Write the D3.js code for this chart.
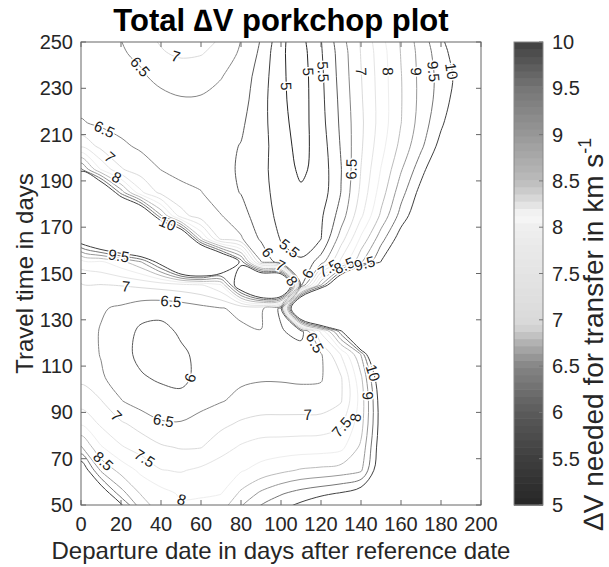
<!DOCTYPE html>
<html>
<head>
<meta charset="utf-8">
<script src="https://cdnjs.cloudflare.com/ajax/libs/d3/7.8.5/d3.min.js"></script>
<style>
  html, body { margin: 0; padding: 0; background: #fff; }
  svg { display: block; font-family: "Liberation Sans", Arial, Helvetica, sans-serif; }
</style>
</head>
<body>
<svg id="chart" width="609" height="567"></svg>
<script>
// grid columns: departure date (days after reference date)
const departureDays = d3.range(0, 201, 10);
// grid rows: travel time (days), top row first (first and last row sit just outside the axes)
const travelDays = d3.range(255, 44, -10);

// total delta-V (km/s), one row per travel time,
// one value per departure day
const dv255 = [6.27, 6.4, 6.52, 6.85, 7.12, 7.25, 7.2, 7.05, 6.55, 6.02, 5.06, 4.8, 5.51, 6.28, 7.06, 7.82, 8.56, 9.24, 9.92, 10.6, 11.3];
const dv245 = [6.23, 6.35, 6.47, 6.56, 6.95, 7.08, 7.03, 6.8, 6.42, 5.9, 5.06, 4.79, 5.45, 6.22, 7.02, 7.77, 8.52, 9.18, 9.78, 10.38, 11.05];
const dv235 = [6.28, 6.33, 6.39, 6.46, 6.58, 6.67, 6.65, 6.52, 6.28, 5.77, 5.08, 4.76, 5.4, 6.18, 6.98, 7.73, 8.48, 9.15, 9.68, 10.22, 10.9];
const dv225 = [6.35, 6.36, 6.36, 6.38, 6.42, 6.47, 6.46, 6.35, 6.2, 5.7, 5.1, 4.76, 5.37, 6.13, 6.94, 7.71, 8.47, 9.15, 9.73, 10.35, 11.05];
const dv215 = [6.54, 6.42, 6.36, 6.33, 6.31, 6.3, 6.27, 6.2, 6.08, 5.68, 5.15, 4.78, 5.33, 6.09, 6.9, 7.71, 8.49, 9.22, 9.9, 10.6, 11.3];
const dv205 = [7.42, 6.85, 6.58, 6.43, 6.33, 6.26, 6.21, 6.13, 5.98, 5.68, 5.22, 4.82, 5.25, 6.04, 6.93, 7.82, 8.65, 9.4, 10.2, 10.95, 11.7];
const dv195 = [9.6, 7.95, 7.05, 6.72, 6.49, 6.38, 6.28, 6.12, 5.95, 5.63, 5.27, 4.9, 5.2, 5.98, 7.01, 8.02, 8.95, 9.8, 10.65, 11.45, 12.25];
const dv185 = [14.0, 11.8, 9.3, 7.6, 6.85, 6.62, 6.52, 6.2, 5.98, 5.65, 5.32, 5.08, 5.22, 6.01, 7.12, 8.25, 9.3, 10.2, 11.0, 11.8, 12.6];
const dv175 = [13.2, 13.5, 13.2, 11.8, 9.05, 7.2, 6.72, 6.52, 6.2, 5.72, 5.37, 5.22, 5.42, 6.22, 7.4, 8.6, 9.7, 10.5, 11.3, 12.1, 12.85];
const dv165 = [10.6, 11.8, 12.8, 13.5, 13.5, 12.0, 8.6, 6.88, 6.56, 5.92, 5.47, 5.3, 5.49, 6.75, 8.1, 9.3, 10.3, 11.1, 11.8, 12.5, 13.2];
const dv155 = [7.75, 7.92, 8.35, 8.98, 10.4, 13.0, 14.0, 12.0, 9.8, 6.52, 5.72, 5.55, 6.25, 7.62, 8.95, 10.02, 11.0, 11.8, 12.5, 13.1, 13.7];
const dv145 = [6.95, 6.98, 7.02, 7.1, 7.2, 7.3, 7.45, 7.95, 11.0, 14.0, 14.0, 5.9, 9.0, 12.0, 15.0, 16.0, 17.0, 17.5, 17.5, 17.5, 17.5];
const dv135 = [6.8, 6.55, 6.42, 6.22, 6.14, 6.22, 6.36, 6.48, 6.58, 6.6, 5.9, 14.0, 17.0, 18.0, 18.0, 18.0, 18.0, 18.0, 18.0, 18.0, 18.0];
const dv125 = [6.72, 6.47, 6.25, 5.9, 5.88, 6.06, 6.2, 6.35, 6.44, 6.49, 6.05, 5.8, 7.6, 9.8, 14.0, 17.0, 18.0, 18.0, 18.0, 18.0, 18.0];
const dv115 = [6.72, 6.48, 6.17, 5.88, 5.82, 5.93, 6.1, 6.25, 6.34, 6.38, 6.37, 6.3, 6.45, 7.52, 9.02, 12.5, 16.5, 18.0, 18.0, 18.0, 18.0];
const dv105 = [6.9, 6.56, 6.28, 6.05, 5.93, 5.9, 6.12, 6.3, 6.42, 6.46, 6.46, 6.44, 6.46, 6.95, 8.4, 10.7, 15.0, 18.0, 18.0, 18.0, 18.0];
const dv95  = [7.25, 7.02, 6.52, 6.28, 6.2, 6.12, 6.33, 6.47, 6.62, 6.68, 6.67, 6.65, 6.66, 6.96, 8.2, 10.35, 14.5, 18.0, 18.0, 18.0, 18.0];
const dv85  = [7.95, 7.42, 7.08, 6.82, 6.56, 6.55, 6.7, 6.88, 7.08, 7.2, 7.22, 7.24, 7.26, 7.42, 8.3, 10.3, 14.5, 18.0, 18.0, 18.0, 18.0];
const dv75  = [9.05, 8.05, 7.55, 7.28, 7.06, 6.96, 6.98, 7.3, 7.56, 7.7, 7.72, 7.74, 7.76, 7.86, 8.6, 10.4, 14.5, 18.0, 18.0, 18.0, 18.0];
const dv65  = [10.6, 8.92, 8.32, 7.88, 7.52, 7.46, 7.6, 7.78, 7.95, 8.18, 8.38, 8.55, 8.62, 8.72, 8.92, 10.6, 14.5, 18.0, 18.0, 18.0, 18.0];
const dv55  = [13.5, 10.6, 9.2, 8.45, 8.18, 7.93, 7.94, 7.98, 8.6, 9.1, 9.45, 9.7, 9.88, 10.05, 10.4, 11.5, 15.0, 18.0, 18.0, 18.0, 18.0];
const dv45  = [18.0, 14.0, 11.0, 9.2, 8.5, 8.2, 8.25, 8.6, 9.3, 9.9, 10.2, 10.5, 10.9, 11.4, 12.5, 14.5, 17.0, 18.0, 18.0, 18.0, 18.0];

const deltaVRows = [dv255, dv245, dv235, dv225, dv215, dv205, dv195, dv185, dv175, dv165, dv155,
  dv145, dv135, dv125, dv115, dv105, dv95, dv85, dv75, dv65, dv55, dv45];

const contourLevels = [5, 5.5, 6, 6.5, 7, 7.5, 8, 8.5, 9, 9.5, 10];
const xTicks = [0, 20, 40, 60, 80, 100, 120, 140, 160, 180, 200];
const yTicks = [50, 70, 90, 110, 130, 150, 170, 190, 210, 230, 250];
const colorbarTicks = [5, 5.5, 6, 6.5, 7, 7.5, 8, 8.5, 9, 9.5, 10];

// ---------------------------------------------------------------------------

const svg = d3.select('#chart');
const plot = { x0: 81, x1: 481, y0: 42, y1: 505 };
const x = d3.scaleLinear().domain([0, 200]).range([plot.x0, plot.x1]);
const y = d3.scaleLinear().domain([50, 250]).range([plot.y1, plot.y0]);

// grey colormap: dark at both ends, white around 8
const greyStops = [[5, 38], [5.5, 62], [6, 90], [6.5, 133], [6.75, 176], [6.9, 208], [7, 218],
  [7.5, 228], [8, 238], [8.12, 248], [8.3, 218], [8.5, 188], [9, 152], [9.5, 118], [10, 64]];
const greyScale = d3.scaleLinear()
  .domain(greyStops.map(d => d[0]))
  .range(greyStops.map(d => d[1]))
  .clamp(true);
const colorOf = v => {
  const g = Math.round(greyScale(v));
  return `rgb(${g},${g},${g})`;
};

svg.append('rect').attr('width', 609).attr('height', 567).attr('fill', '#fff');

svg.append('defs').append('clipPath').attr('id', 'plot-clip')
  .append('rect')
  .attr('x', plot.x0).attr('y', plot.y0)
  .attr('width', plot.x1 - plot.x0).attr('height', plot.y1 - plot.y0);

// contours --------------------------------------------------------------------
const nx = departureDays.length, ny = travelDays.length;
const contours = d3.contours()
  .size([nx, ny])
  .thresholds(contourLevels)(deltaVRows.flat());

const dStep = departureDays[1] - departureDays[0];
const tStep = travelDays[0] - travelDays[1];
const toPx = p => [
  x(departureDays[0] + (p[0] - 0.5) * dStep),
  y(travelDays[0] - (p[1] - 0.5) * tStep)
];
const onBorder = p => p[0] <= 0 || p[0] >= nx || p[1] <= 0 || p[1] >= ny;

// cut the grid border out of each ring, keep the real iso-lines
function splitRing(ring) {
  const pts = ring.slice();
  const f = pts[0], l = pts[pts.length - 1];
  if (f[0] === l[0] && f[1] === l[1]) pts.pop();
  const m = pts.length;
  const isBorderSeg = i => onBorder(pts[i]) && onBorder(pts[(i + 1) % m]);
  let start = -1;
  for (let i = 0; i < m; i++) if (isBorderSeg(i)) { start = i; break; }
  if (start < 0) return [{ pts, closed: true }];
  const lines = [];
  let cur = [];
  for (let k = 1; k <= m; k++) {
    const i = (start + k) % m;
    if (isBorderSeg(i)) {
      if (cur.length > 1) lines.push({ pts: cur, closed: false });
      cur = [];
    } else {
      if (!cur.length) cur.push(pts[i]);
      cur.push(pts[(i + 1) % m]);
    }
  }
  if (cur.length > 1) lines.push({ pts: cur, closed: false });
  return lines;
}

const isoLines = [];
contours.forEach(c => {
  c.coordinates.forEach(poly => poly.forEach(ring => {
    splitRing(ring).forEach(seg => {
      isoLines.push({ level: c.value, closed: seg.closed, pts: seg.pts.map(toPx) });
    });
  }));
});

const openLine = d3.line().curve(d3.curveCatmullRom.alpha(0.5));
const closedLine = d3.line().curve(d3.curveCatmullRomClosed.alpha(0.5));

const plotArea = svg.append('g').attr('clip-path', 'url(#plot-clip)');
plotArea.selectAll('path.iso')
  .data(isoLines)
  .join('path')
  .attr('class', 'iso')
  .attr('d', d => (d.closed ? closedLine : openLine)(d.pts))
  .attr('fill', 'none')
  .attr('stroke', d => colorOf(d.level))
  .attr('stroke-width', 1);

// inline labels ------------------------------------------------------------------
const labels = [];
const fmt = v => (Number.isInteger(v) ? String(v) : v.toFixed(1));
const inside = p => p[0] > plot.x0 + 4 && p[0] < plot.x1 - 4 && p[1] > plot.y0 + 4 && p[1] < plot.y1 - 4;

function measure(r) {
  const cum = [0];
  for (let i = 1; i < r.length; i++) {
    cum.push(cum[i - 1] + Math.hypot(r[i][0] - r[i - 1][0], r[i][1] - r[i - 1][1]));
  }
  return cum;
}

function pointAt(r, cum, s) {
  let i = d3.bisectLeft(cum, s);
  if (i < 1) i = 1;
  if (i >= r.length) i = r.length - 1;
  const a = r[i - 1], b = r[i];
  const t = (s - cum[i - 1]) / ((cum[i] - cum[i - 1]) || 1);
  return [a[0] + t * (b[0] - a[0]), a[1] + t * (b[1] - a[1])];
}

function pushLabel(r, cum, s, level) {
  const L = cum[cum.length - 1];
  const p = pointAt(r, cum, s);
  const pa = pointAt(r, cum, Math.max(0, s - 7));
  const pb = pointAt(r, cum, Math.min(L, s + 7));
  let ang = Math.atan2(pb[1] - pa[1], pb[0] - pa[0]) * 180 / Math.PI;
  if (ang > 90) ang -= 180;
  if (ang < -90) ang += 180;
  if (labels.some(q => Math.hypot(q.x - p[0], q.y - p[1]) < 15)) return;
  labels.push({ x: p[0], y: p[1], angle: ang, text: fmt(level) });
}

function addLabels(line) {
  if (line.closed) {
    const r = line.pts.concat([line.pts[0]]);
    const cum = measure(r);
    if (cum[cum.length - 1] < 60) return;
    const iMax = d3.maxIndex(r, p => p[0]);
    pushLabel(r, cum, cum[iMax], line.level);
    return;
  }
  const runs = [];
  let run = [];
  line.pts.forEach(p => {
    if (inside(p)) run.push(p);
    else { if (run.length > 1) runs.push(run); run = []; }
  });
  if (run.length > 1) runs.push(run);

  const score = p => Math.min(p[1] - plot.y0, p[0] - plot.x0);
  runs.forEach(r0 => {
    const r = score(r0[r0.length - 1]) < score(r0[0]) ? r0.slice().reverse() : r0;
    const cum = measure(r);
    const L = cum[cum.length - 1];
    if (L < 40) return;
    let placedAny = false;
    for (let s = 18; s < L - 16; s += 210) {
      pushLabel(r, cum, s, line.level);
      placedAny = true;
    }
    if (!placedAny) pushLabel(r, cum, L / 2, line.level);
  });
}
isoLines.forEach(addLabels);

plotArea.selectAll('text.clabel')
  .data(labels)
  .join('text')
  .attr('class', 'clabel')
  .attr('transform', d => `translate(${d.x},${d.y}) rotate(${d.angle})`)
  .attr('text-anchor', 'middle')
  .attr('dy', '0.36em')
  .attr('font-size', 15)
  .attr('fill', '#1a1a1a')
  .attr('stroke', '#fff')
  .attr('stroke-width', 3)
  .attr('paint-order', 'stroke')
  .text(d => d.text);

// axes box and ticks --------------------------------------------------------------
const axisColor = '#666';
const textColor = '#262626';
const tickLen = 5;

svg.append('rect')
  .attr('x', plot.x0).attr('y', plot.y0)
  .attr('width', plot.x1 - plot.x0).attr('height', plot.y1 - plot.y0)
  .attr('fill', 'none').attr('stroke', axisColor).attr('stroke-width', 1);

const ticks = svg.append('g').attr('stroke', axisColor).attr('stroke-width', 1);
xTicks.forEach(v => {
  ticks.append('line').attr('x1', x(v)).attr('x2', x(v)).attr('y1', plot.y1).attr('y2', plot.y1 - tickLen);
  ticks.append('line').attr('x1', x(v)).attr('x2', x(v)).attr('y1', plot.y0).attr('y2', plot.y0 + tickLen);
});
yTicks.forEach(v => {
  ticks.append('line').attr('y1', y(v)).attr('y2', y(v)).attr('x1', plot.x0).attr('x2', plot.x0 + tickLen);
  ticks.append('line').attr('y1', y(v)).attr('y2', y(v)).attr('x1', plot.x1).attr('x2', plot.x1 - tickLen);
});

svg.append('g').selectAll('text')
  .data(xTicks).join('text')
  .attr('x', d => x(d)).attr('y', plot.y1 + 26)
  .attr('text-anchor', 'middle')
  .attr('font-size', 20).attr('fill', textColor)
  .text(d => d);

svg.append('g').selectAll('text')
  .data(yTicks).join('text')
  .attr('x', plot.x0 - 8).attr('y', d => y(d) + 7)
  .attr('text-anchor', 'end')
  .attr('font-size', 20).attr('fill', textColor)
  .text(d => d);

svg.append('text')
  .attr('x', (plot.x0 + plot.x1) / 2).attr('y', 559)
  .attr('text-anchor', 'middle')
  .attr('font-size', 24).attr('fill', textColor)
  .text('Departure date in days after reference date');

svg.append('text')
  .attr('transform', `translate(33,${(plot.y0 + plot.y1) / 2}) rotate(-90)`)
  .attr('text-anchor', 'middle')
  .attr('font-size', 24).attr('fill', textColor)
  .text('Travel time in days');

svg.append('text')
  .attr('x', (plot.x0 + plot.x1) / 2).attr('y', 31)
  .attr('text-anchor', 'middle')
  .attr('font-size', 31).attr('font-weight', 'bold').attr('fill', '#000')
  .text('Total \u2206V porkchop plot');

// colorbar -----------------------------------------------------------------------
const cb = { x0: 514, x1: 543, y0: 42, y1: 505 };
const cbY = d3.scaleLinear().domain([5, 10]).range([cb.y1, cb.y0]);
const nBands = 64;
const bandH = (cb.y1 - cb.y0) / nBands;
svg.append('g').selectAll('rect')
  .data(d3.range(nBands))
  .join('rect')
  .attr('x', cb.x0).attr('width', cb.x1 - cb.x0)
  .attr('y', i => cb.y1 - (i + 1) * bandH)
  .attr('height', bandH + 0.6)
  .attr('fill', i => colorOf(5 + (i + 0.5) * 5 / nBands));

svg.append('rect')
  .attr('x', cb.x0).attr('y', cb.y0)
  .attr('width', cb.x1 - cb.x0).attr('height', cb.y1 - cb.y0)
  .attr('fill', 'none').attr('stroke', '#888').attr('stroke-width', 1);

const cbTicks = svg.append('g').attr('stroke', '#777').attr('stroke-width', 1);
colorbarTicks.forEach(v => {
  cbTicks.append('line').attr('x1', cb.x1).attr('x2', cb.x1 - 4).attr('y1', cbY(v)).attr('y2', cbY(v));
});

svg.append('g').selectAll('text')
  .data(colorbarTicks).join('text')
  .attr('x', cb.x1 + 9).attr('y', d => cbY(d) + 7)
  .attr('font-size', 20).attr('fill', textColor)
  .text(d => fmt(d));

const cbLabel = svg.append('text')
  .attr('transform', 'translate(603,334) rotate(-90)')
  .attr('text-anchor', 'middle')
  .attr('font-size', 28).attr('fill', textColor);
cbLabel.append('tspan').text('\u2206V needed for transfer in km s');
cbLabel.append('tspan').attr('font-size', 18).attr('dy', -12).text('-1');
</script>
</body>
</html>
